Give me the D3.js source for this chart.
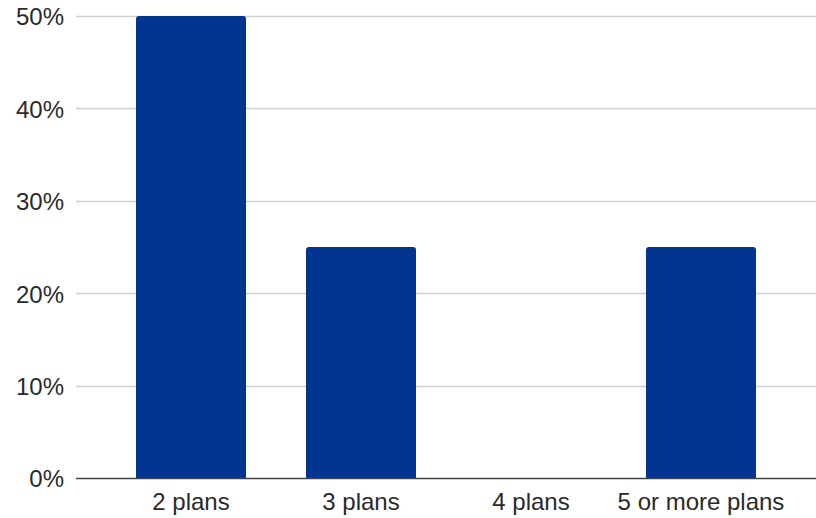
<!DOCTYPE html>
<html><head><meta charset="utf-8">
<script src="https://cdn.jsdelivr.net/npm/d3@7"></script>
<style>body{margin:0;background:#fff}svg{display:block}</style>
</head><body>
<svg id="c" width="816" height="518"></svg>
<script>
const categories = ["2 plans", "3 plans", "4 plans", "5 or more plans"];
const values = [0.5, 0.25, 0, 0.25];
const yTicks = [0, 0.1, 0.2, 0.3, 0.4, 0.5];

(function () {
const svg = d3.select("#c");
const mLeft = 76, mRight = 816, mTop = 16, mBottom = 478;
const x = d3.scaleBand().domain(categories).range([mLeft, mRight]).paddingInner(0.353).paddingOuter(0.353);
const y = d3.scaleLinear().domain([0, 0.5]).range([mBottom, mTop]);
const font = "Liberation Sans, Arial, sans-serif";

// gridlines
svg.append("g").selectAll("line").data(yTicks.filter(d => d > 0)).join("line")
  .attr("x1", mLeft).attr("x2", mRight)
  .attr("y1", d => Math.round(y(d)) + 0.5).attr("y2", d => Math.round(y(d)) + 0.5)
  .attr("stroke", "#d0d0d0").attr("stroke-width", 1.3);

// y labels
svg.append("g").selectAll("text").data(yTicks).join("text")
  .attr("x", 64).attr("y", d => y(d) + 1).attr("dy", "0.35em")
  .attr("text-anchor", "end").attr("font-family", font).attr("font-size", 24)
  .attr("fill", "#2a2a2a").text(d3.format(".0%"));

// bars with rounded top corners
const r = 3;
svg.append("g").selectAll("path").data(values.map((v, i) => ({c: categories[i], v})).filter(d => d.v > 0)).join("path")
  .attr("fill", "#01358f")
  .attr("d", d => {
    const x0 = x(d.c), x1 = x0 + x.bandwidth(), y0 = y(d.v), y1 = y(0);
    return `M${x0},${y1}V${y0 + r}Q${x0},${y0} ${x0 + r},${y0}H${x1 - r}Q${x1},${y0} ${x1},${y0 + r}V${y1}Z`;
  });

// x axis baseline
svg.append("line").attr("x1", mLeft).attr("x2", mRight)
  .attr("y1", y(0) + 0.5).attr("y2", y(0) + 0.5).attr("stroke", "#444").attr("stroke-width", 1.3);

// x labels
svg.append("g").selectAll("text").data(categories).join("text")
  .attr("x", d => x(d) + x.bandwidth() / 2).attr("y", 510)
  .attr("text-anchor", "middle").attr("font-family", font).attr("font-size", 24)
  .attr("fill", "#2a2a2a").text(d => d);
})();
</script>
</body></html>
